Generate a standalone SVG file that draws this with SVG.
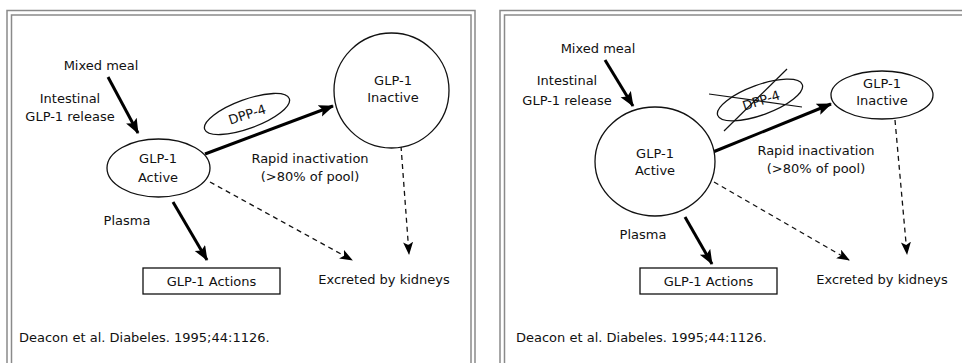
<svg xmlns="http://www.w3.org/2000/svg" width="962" height="363" viewBox="0 0 962 363">
<style>
text{font-family:"DejaVu Sans","Liberation Sans",sans-serif;font-size:13px;fill:#111}
.c{text-anchor:middle}
.shape{fill:#fff;stroke:#111;stroke-width:1.3}
.thick{stroke:#000;stroke-width:3;fill:none}
.dash{stroke:#111;stroke-width:1.3;stroke-dasharray:5 4;fill:none}
.frame{fill:none;stroke:#8a8a8a;stroke-width:1.5}
.cross{stroke:#111;stroke-width:1.2}
</style>
<defs>
<marker id="ah" markerUnits="userSpaceOnUse" markerWidth="16" markerHeight="14" refX="14" refY="6" orient="auto">
<path d="M0,0 L15,6 L0,12 L3,6 z" fill="#000"/>
</marker>
<marker id="ahs" markerUnits="userSpaceOnUse" markerWidth="14" markerHeight="12" refX="12" refY="5" orient="auto">
<path d="M0,0 L13,5 L0,10 L3,5 z" fill="#000"/>
</marker>
</defs>
<rect width="962" height="363" fill="#fff"/>
<g id="frames">
<path class="frame" d="M7,370 V10.5 H475 V370"/>
<path class="frame" d="M11.5,370 V15 H471 V370"/>
<path class="frame" d="M500,370 V10.5 H970"/>
<path class="frame" d="M504.5,370 V15 H970"/>
</g>
<g id="connectors">
<line class="thick" x1="108" y1="77" x2="138" y2="133" marker-end="url(#ah)"/>
<line class="thick" x1="205" y1="154" x2="333" y2="106" marker-end="url(#ah)"/>
<line class="thick" x1="173" y1="202" x2="207" y2="260" marker-end="url(#ah)"/>
<line class="dash" x1="210" y1="182" x2="352" y2="260" marker-end="url(#ahs)"/>
<line class="dash" x1="401" y1="146" x2="409" y2="254" marker-end="url(#ahs)"/>
<line class="thick" x1="605" y1="60" x2="633" y2="106" marker-end="url(#ah)"/>
<line class="thick" x1="713" y1="152" x2="831" y2="104" marker-end="url(#ah)"/>
<line class="thick" x1="685" y1="217" x2="712" y2="264" marker-end="url(#ah)"/>
<line class="dash" x1="714" y1="182" x2="849" y2="260" marker-end="url(#ahs)"/>
<line class="dash" x1="895" y1="120" x2="907" y2="254" marker-end="url(#ahs)"/>
</g>
<g id="left-labels">
<text x="101" y="70" class="c">Mixed meal</text>
<text x="70" y="103" class="c">Intestinal</text>
<text x="70" y="121" class="c">GLP-1 release</text>
<text x="310" y="163" class="c">Rapid inactivation</text>
<text x="310" y="181" class="c">(&gt;80% of pool)</text>
<text x="127" y="225" class="c">Plasma</text>
<text x="384" y="284" class="c">Excreted by kidneys</text>
<text x="19" y="342">Deacon et al. Diabeles. 1995;44:1126.</text>
</g>
<g id="left-active">
<ellipse class="shape" cx="158.5" cy="168" rx="51.5" ry="29"/>
<text x="158" y="163" class="c">GLP-1</text>
<text x="158" y="182" class="c">Active</text>
</g>
<g id="left-dpp4">
<ellipse class="shape" cx="247" cy="114" rx="45" ry="14.5" transform="rotate(-20 247 114)"/>
<text x="247" y="119" class="c" transform="rotate(-18 247 114)">DPP-4</text>
</g>
<g id="left-inactive">
<circle class="shape" cx="391.5" cy="90.5" r="57.5"/>
<text x="393" y="85" class="c">GLP-1</text>
<text x="393" y="102" class="c">Inactive</text>
</g>
<g id="left-actions">
<rect class="shape" x="143" y="268" width="137" height="26"/>
<text x="211.5" y="286" class="c">GLP-1 Actions</text>
</g>
<g id="right-labels">
<text x="598" y="53" class="c">Mixed meal</text>
<text x="567" y="85" class="c">Intestinal</text>
<text x="567" y="105" class="c">GLP-1 release</text>
<text x="816" y="155" class="c">Rapid inactivation</text>
<text x="816" y="173" class="c">(&gt;80% of pool)</text>
<text x="643" y="239" class="c">Plasma</text>
<text x="882" y="284" class="c">Excreted by kidneys</text>
<text x="516" y="342">Deacon et al. Diabeles. 1995;44:1126.</text>
</g>
<g id="right-active">
<ellipse class="shape" cx="655" cy="161.5" rx="60" ry="54.5"/>
<text x="655" y="158" class="c">GLP-1</text>
<text x="655" y="175" class="c">Active</text>
</g>
<g id="right-dpp4">
<ellipse class="shape" cx="760" cy="100" rx="45" ry="15" transform="rotate(-20 760 100)"/>
<text x="761" y="105" class="c" transform="rotate(-18 761 100)">DPP-4</text>
<line class="cross" x1="709" y1="94" x2="802" y2="107"/>
<line class="cross" x1="724" y1="131" x2="787" y2="69"/>
</g>
<g id="right-inactive">
<ellipse class="shape" cx="882" cy="95" rx="51" ry="24"/>
<text x="882" y="88" class="c">GLP-1</text>
<text x="882" y="105" class="c">Inactive</text>
</g>
<g id="right-actions">
<rect class="shape" x="640" y="268" width="137" height="26"/>
<text x="708.5" y="286" class="c">GLP-1 Actions</text>
</g>
</svg>
